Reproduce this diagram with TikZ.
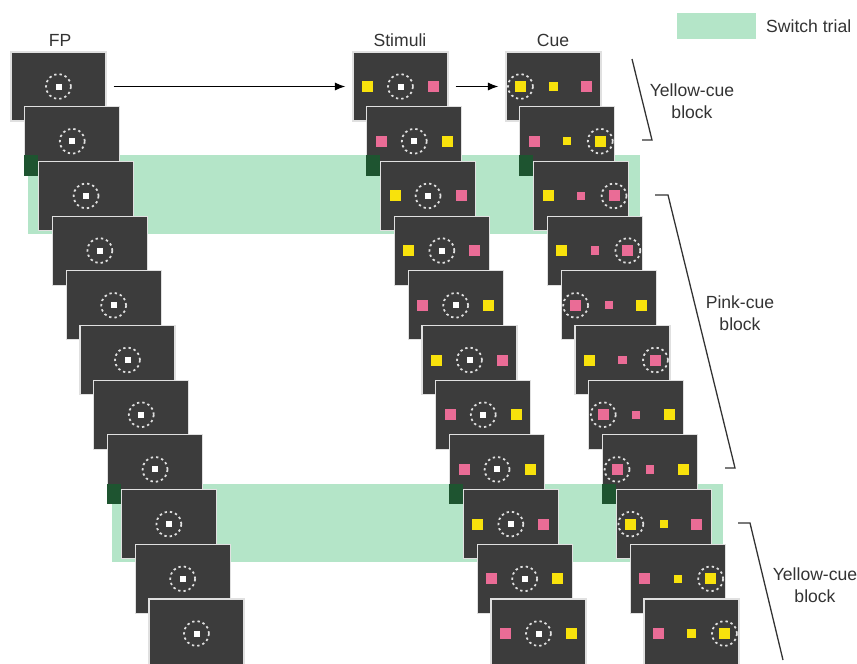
\documentclass[tikz,border=0pt]{standalone}
\usepackage{fontspec}
\setmainfont{Liberation Sans}
\usetikzlibrary{arrows.meta}

\definecolor{cardgray}{RGB}{60,60,60}
\definecolor{stimyel}{RGB}{248,226,12}
\definecolor{stimpnk}{RGB}{234,108,150}
\definecolor{bandgreen}{RGB}{180,229,200}
\definecolor{dkgreen}{RGB}{30,84,48}
\definecolor{txtgray}{RGB}{51,51,51}

\tikzset{
  card/.style={draw=white!88!black, line width=1pt, fill=cardgray, minimum width=2.85cm, minimum height=2.07cm, inner sep=0pt},
  ring/.style={circle, draw=white!88!black, line width=1.5pt, dash pattern=on 2pt off 2.6pt, minimum size=0.75cm, inner sep=0pt},
  fix/.style={fill=white, minimum size=0.18cm, inner sep=0pt},
  stim/.style={minimum size=0.33cm, inner sep=0pt},
  cuesq/.style={minimum size=0.25cm, inner sep=0pt},
  lbl/.style={text=txtgray, font=\fontsize{15}{19}\selectfont, align=center, inner sep=0pt},
  arr/.style={line width=1.1pt, -{Latex[length=9pt,width=7pt]}, shorten <=6pt, shorten >=6pt},
  brk/.style={line width=1.1pt, draw=txtgray}
}

\newcommand{\trialrow}[5]{%
  \pgfmathsetmacro{\rowx}{13.8*#1}
  \pgfmathsetmacro{\rowy}{86.5+54.7*#1}
  \node[card] (fp#1) at ({58.5+\rowx},\rowy) {};
  \node[fix] (fpfix#1) at (fp#1) {};
  \node[ring] (fpring#1) at (fp#1) {};
  \node[card] (st#1) at ({400.5+\rowx},\rowy) {};
  \node[stim,fill=#2] (stl#1) at ({367.5+\rowx},\rowy) {};
  \node[fix] (stfix#1) at (st#1) {};
  \node[ring] (string#1) at (st#1) {};
  \node[stim,fill=#3] (str#1) at ({433.5+\rowx},\rowy) {};
  \node[card] (cu#1) at ({553.5+\rowx},\rowy) {};
  \node[stim,fill=#2] (cul#1) at ({520.5+\rowx},\rowy) {};
  \node[cuesq,fill=#4] (cuc#1) at (cu#1) {};
  \node[stim,fill=#3] (cur#1) at ({586.5+\rowx},\rowy) {};
  \node[ring] (curing#1) at ({553.5+(#5)+\rowx},\rowy) {};
}

\begin{document}
\begin{tikzpicture}[x=0.03cm, y=-0.03cm]
\useasboundingbox (0,0) rectangle (857,663);
\clip (0,0) rectangle (857,663);
\node[lbl] (fplbl) at (60,40) {FP};
\node[lbl] (stlbl) at (400,40) {Stimuli};
\node[lbl] (culbl) at (553,40) {Cue};
\node[fill=bandgreen, minimum width=2.37cm, minimum height=0.78cm, inner sep=0pt] (legbox) at (716.5,26) {};
\node[lbl, anchor=west] (legtxt) at (766,26) {Switch trial};
\coordinate (bandtop1) at (0,155);
\coordinate (bandtop2) at (0,484);
\trialrow{0}{stimyel}{stimpnk}{stimyel}{-33}
\fill[bandgreen] (28,155) rectangle (640,234);
\trialrow{1}{stimpnk}{stimyel}{stimyel}{33}
\trialrow{2}{stimyel}{stimpnk}{stimpnk}{33}
\fill[dkgreen] (fp1.south west) rectangle (fp2.south west |- bandtop1);
\fill[dkgreen] (st1.south west) rectangle (st2.south west |- bandtop1);
\fill[dkgreen] (cu1.south west) rectangle (cu2.south west |- bandtop1);
\trialrow{3}{stimyel}{stimpnk}{stimpnk}{33}
\trialrow{4}{stimpnk}{stimyel}{stimpnk}{-33}
\trialrow{5}{stimyel}{stimpnk}{stimpnk}{33}
\trialrow{6}{stimpnk}{stimyel}{stimpnk}{-33}
\fill[bandgreen] (112,484) rectangle (723,562);
\trialrow{7}{stimpnk}{stimyel}{stimpnk}{-33}
\trialrow{8}{stimyel}{stimpnk}{stimyel}{-33}
\fill[dkgreen] (fp7.south west) rectangle (fp8.south west |- bandtop2);
\fill[dkgreen] (st7.south west) rectangle (st8.south west |- bandtop2);
\fill[dkgreen] (cu7.south west) rectangle (cu8.south west |- bandtop2);
\trialrow{9}{stimpnk}{stimyel}{stimyel}{33}
\trialrow{10}{stimpnk}{stimyel}{stimyel}{33}
\draw[arr] (fp0) -- (st0);
\draw[arr] (st0) -- (cu0);
\draw[brk] (632,59) -- (652,140) -- (642,140);
\node[lbl] (yblk1) at (692,101) {Yellow-cue\\block};
\draw[brk] (655,195) -- (668,195) -- (735,468) -- (725,468);
\node[lbl] (pblk) at (740,313) {Pink-cue\\block};
\draw[brk] (738,523) -- (750,523) -- (783,660);
\node[lbl] (yblk2) at (815,585) {Yellow-cue\\block};
\end{tikzpicture}
\end{document}
